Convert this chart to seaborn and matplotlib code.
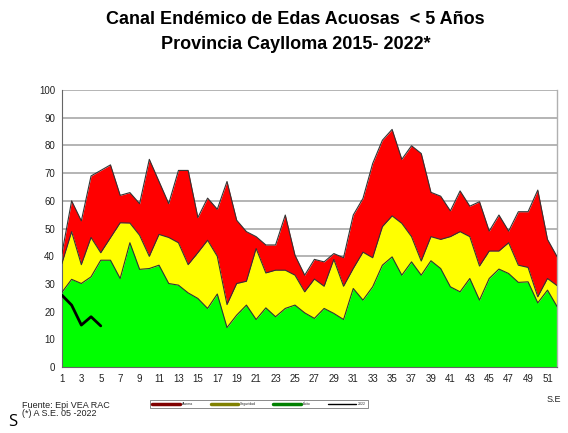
import numpy as np
import pandas as pd
import matplotlib
matplotlib.use("Agg")
import matplotlib.pyplot as plt
import seaborn as sns

weeks = list(range(1, 53))
exito = [27, 31.7, 30.2, 32.6, 38.6, 38.6, 32, 44.9, 35.3, 35.6, 36.8, 30.2, 29.6, 26.8, 24.8, 21.2, 26.4, 14.3,
         18.8, 22.4, 17.2, 21.4, 18.2, 21.2, 22.4, 19.6, 17.6, 21.2, 19.4, 17.2, 28.4, 24.2, 29, 36.8, 39.8,
         33.2, 38, 33.2, 38.4, 35.6, 29, 27.2, 32, 24.2, 32, 35.4, 33.8, 30.6, 30.8, 23.2, 27.8, 21.8]
seguridad = [37.4, 48.9, 37, 46.8, 41.3, 46.7, 52.1, 52, 47.6, 40, 47.9, 46.8, 44.9, 37, 41.3, 45.8, 40, 22.6,
             30.2, 31, 42.8, 34, 35, 35, 33.2, 27.2, 31.8, 29.2, 38.9, 29.2, 35.6, 41.5, 39.5, 50.7, 54.6,
             51.9, 47.1, 38.3, 47.1, 46.1, 47.1, 48.9, 47.1, 36.5, 41.9, 41.9, 44.9, 36.8, 36, 25.4, 32, 29.4]
alarma = [41, 60, 52.8, 69, 71, 73, 62, 63, 59, 75, 67, 59, 71, 71, 54, 61, 57, 67,
          53, 48.9, 47.1, 44.1, 44.1, 54.9, 40.4, 33.2, 38.9, 38, 41, 39.5, 54.9, 60.9, 73.5, 81.9, 85.8,
          75, 79.9, 77.1, 63.1, 61.7, 56.4, 63.6, 58.1, 59.7, 49.1, 54.9, 49.1, 56.1, 56.1, 63.9, 46.1, 39.8]
weeks_2022 = [1, 2, 3, 4, 5]
casos_2022 = [26, 22.4, 15.2, 18.2, 14.9]

legend_labels = ["Alarma", "Seguridad", "Éxito", "2022"]

sns.set_theme(style="white")
plt.rcParams['font.family'] = ['Liberation Sans', 'DejaVu Sans']

fig = plt.figure(figsize=(5.68, 4.33), dpi=100)
ax = fig.add_axes([0.109, 0.152, 0.872, 0.640])

edge = "#333333"
ax.fill_between(weeks, seguridad, alarma, color="#ff0000", linewidth=0, zorder=2)
ax.fill_between(weeks, exito, seguridad, color="#ffff00", linewidth=0, zorder=2)
ax.fill_between(weeks, 0, exito, color="#00ff00", linewidth=0, zorder=2)
for s in (alarma, seguridad, exito):
    ax.plot(weeks, s, color=edge, linewidth=0.8, zorder=3)

df22 = pd.DataFrame({"semana": weeks_2022, "casos": casos_2022})
sns.lineplot(data=df22, x="semana", y="casos", color="black", linewidth=2.0, ax=ax, zorder=4)

ax.set_xlim(1, 52)
ax.set_ylim(0, 100)
ax.set_yticks(range(0, 101, 10))
ax.set_xticks(weeks, minor=False)
ax.set_xticklabels([str(w) if w % 2 == 1 else "" for w in weeks])
ax.tick_params(axis="both", labelsize=7, length=3, width=0.6, colors="#222222", pad=2)
ax.tick_params(axis="x", direction="out")
ax.grid(axis="y", color="#a8a8a8", linewidth=1.2, zorder=1)
ax.set_axisbelow(True)
ax.set_xlabel("")
ax.set_ylabel("")
for side in ("left", "bottom"):
    ax.spines[side].set_color("#666666")
    ax.spines[side].set_linewidth(0.8)
ax.spines["top"].set_visible(False)
ax.spines["right"].set_color("#b0b0b0")
ax.spines["right"].set_linewidth(1.0)

title_fam = ['Liberation Sans Narrow', 'Liberation Sans', 'DejaVu Sans']
fig.text(0.52, 0.955, "Canal Endémico de Edas Acuosas  < 5 Años", ha="center", va="center",
         fontsize=13, fontweight="bold", family=title_fam, color="black")
fig.text(0.52, 0.897, "Provincia Caylloma 2015- 2022*", ha="center", va="center",
         fontsize=13, fontweight="bold", family=title_fam, color="black")

from matplotlib.lines import Line2D
handles = [Line2D([0], [0], color="#800000", lw=2.5),
           Line2D([0], [0], color="#808000", lw=2.5),
           Line2D([0], [0], color="#008000", lw=2.5),
           Line2D([0], [0], color="black", lw=1)]
leg = fig.legend(handles, legend_labels, loc="center", bbox_to_anchor=(0.456, 0.067), ncol=4,
                 fontsize=2.5, frameon=True, fancybox=False, edgecolor="#555555",
                 handlelength=8, columnspacing=5, borderpad=0.6, handletextpad=0.5)
leg.get_frame().set_linewidth(0.6)

fig.text(0.038, 0.063, "Fuente: Epi VEA RAC", fontsize=6.5, va="center", ha="left", color="#222222",
         family=title_fam)
fig.text(0.038, 0.044, "(*) A S.E. 05 -2022", fontsize=6.5, va="center", ha="left", color="#222222",
         family=title_fam)
fig.text(0.975, 0.077, "S.E", fontsize=6.5, va="center", ha="center", color="#222222")
fig.text(0.014, 0.006, "S", fontsize=12, va="bottom", ha="left", color="black", family=['Open Sans', 'DejaVu Sans'])

fig.savefig("out.png", dpi=100)
